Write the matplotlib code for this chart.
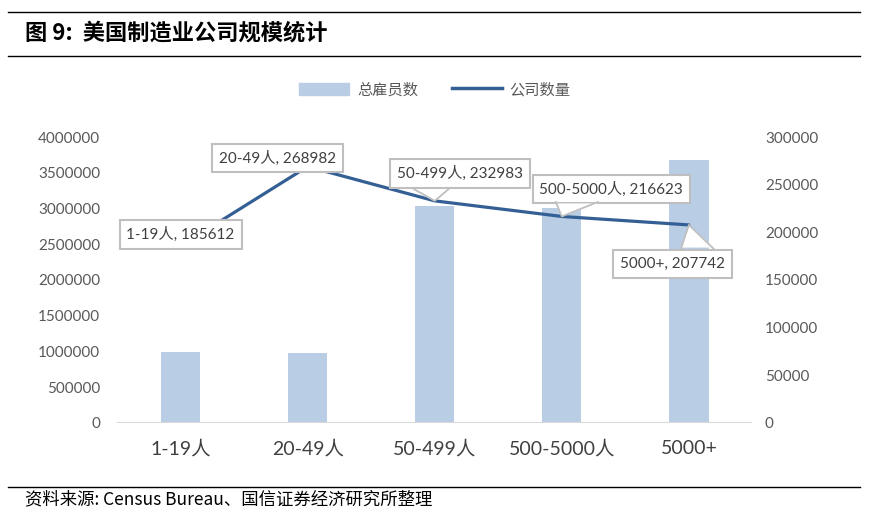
import matplotlib
matplotlib.use("Agg")
import matplotlib.pyplot as plt
from matplotlib.lines import Line2D
from matplotlib.patches import Patch

plt.rcParams["font.family"] = ["Lato", "Noto Sans CJK SC", "DejaVu Sans"]

categories = ["1-19人", "20-49人", "50-499人", "500-5000人", "5000+"]
employees = [993000, 980000, 3035000, 3005000, 3680000]
companies = [185612, 268982, 232983, 216623, 207742]
left_ticks = [0, 500000, 1000000, 1500000, 2000000, 2500000, 3000000, 3500000, 4000000]
right_ticks = [0, 50000, 100000, 150000, 200000, 250000, 300000]

grey = "#595959"
bar_color = "#b9cde5"
line_color = "#335f95"
box_edge = "#bfbfbf"

fig = plt.figure(figsize=(8.8, 5.17), dpi=100)
ax = fig.add_axes([0.133, 0.182, 0.722, 0.553])
ax2 = ax.twinx()

x = list(range(len(categories)))
ax.bar(x, employees, width=0.31, color=bar_color, zorder=1)
ax.set_xlim(-0.5, 4.5)
ax.set_ylim(0, 4000000)
ax.set_yticks(left_ticks)
ax.set_yticklabels([str(t) for t in left_ticks])
ax.set_xticks(x)
ax.set_xticklabels(categories, fontsize=14, color="#404040")

ax2.set_ylim(0, 300000)
ax2.set_yticks(right_ticks)
ax2.set_yticklabels([str(t) for t in right_ticks])
ax2.plot(x, companies, color=line_color, lw=2.3, zorder=3, solid_capstyle="round")

for a in (ax, ax2):
    for s in ("top", "left", "right", "bottom"):
        a.spines[s].set_visible(False)
    a.tick_params(axis="y", length=0, labelsize=11, labelcolor=grey)
ax.tick_params(axis="y", pad=12)
ax2.tick_params(axis="y", pad=9)
ax.tick_params(axis="x", length=0, pad=12)
ax.axhline(0, color="#d9d9d9", lw=1.5, zorder=2)

# data label boxes (centres, right-axis data units)
label_pos = [(0.0, 198000), (0.76, 278000), (2.2, 261500), (3.39, 245500), (3.87, 166500)]
for i, (tx, ty) in enumerate(label_pos):
    ax2.text(tx, ty, f"{categories[i]}, {companies[i]}", ha="center", va="center",
             fontsize=11, color="#404040", zorder=5,
             bbox=dict(boxstyle="square,pad=0.45", fc="white", ec=box_edge, lw=1.5))

# callout wedges: (point index, base x0, base x1, base y, inward offset)
wedges = [(2, 1.835, 2.11, 245450, -1500),
          (3, 2.953, 3.283, 231800, -1500),
          (4, 3.937, 4.197, 182500, 1500)]
for i, bx0, bx1, by, off in wedges:
    px, py = x[i], companies[i]
    ax2.fill([bx0, px, bx1], [by + off, py, by + off], color="white", lw=0, zorder=6)
    ax2.plot([bx0, px, bx1], [by, py, by], color=box_edge, lw=1.3, zorder=7)

handles = [Patch(color=bar_color), Line2D([0], [0], color=line_color, lw=2.5)]
fig.legend(handles, ["总雇员数", "公司数量"], loc="center", bbox_to_anchor=(0.494, 0.826),
           ncol=2, frameon=False, fontsize=11, labelcolor=grey,
           handlelength=3.3, handleheight=0.9, columnspacing=2.2, handletextpad=0.5)

# header / footer rules
for yy in (1 - 12 / 517, 1 - 56 / 517, 1 - 487 / 517):
    fig.add_artist(Line2D([8 / 880, 860 / 880], [yy, yy], color="black", lw=1.0))
fig.text(25 / 880, 1 - 33 / 517, "图 9:  美国制造业公司规模统计", fontsize=16,
         fontweight="bold", family=["Noto Sans CJK SC", "DejaVu Sans"], va="center")
fig.text(25 / 880, 1 - 499 / 517, "资料来源: Census Bureau、国信证券经济研究所整理",
         fontsize=12.5, family=["Noto Sans CJK SC", "DejaVu Sans"], va="center")

fig.savefig("out.png", dpi=100)
